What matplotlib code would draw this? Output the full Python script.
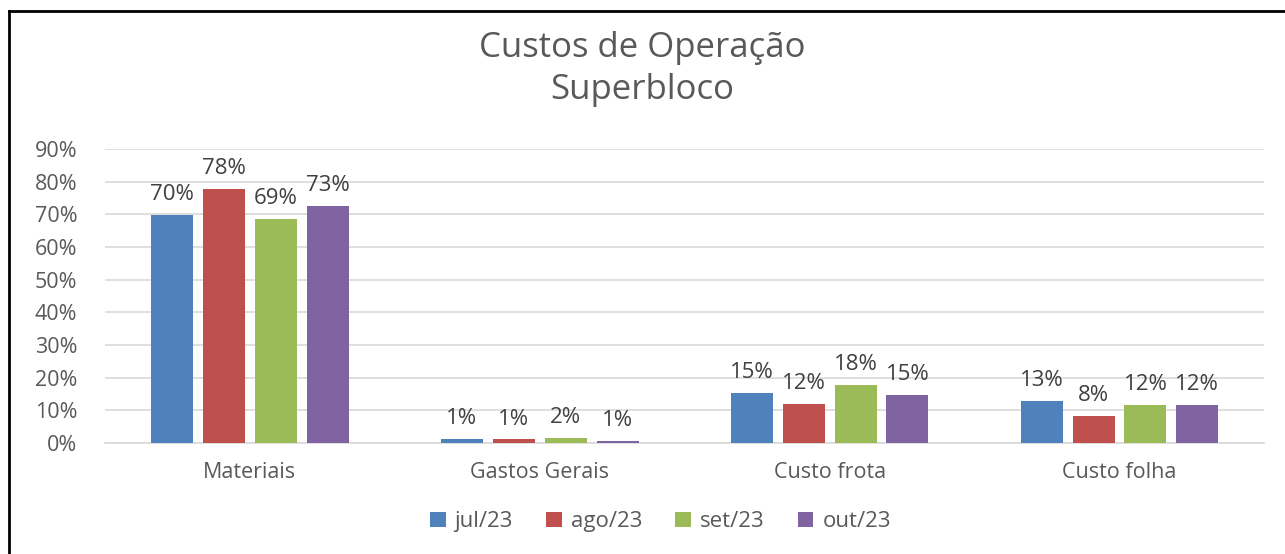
import numpy as np
import matplotlib.pyplot as plt
from matplotlib.lines import Line2D

# dados
categorias = ['Materiais', 'Gastos Gerais', 'Custo frota', 'Custo folha']
series = ['jul/23', 'ago/23', 'set/23', 'out/23']
jul = [69.8, 1.3, 15.3, 12.9]
ago = [77.9, 1.1, 12.0, 8.3]
set_ = [68.7, 1.5, 17.7, 11.6]
out = [72.6, 0.7, 14.6, 11.6]
valores = [jul, ago, set_, out]
cores = ['#4F81BD', '#C0504D', '#9BBB59', '#8064A2']

plt.rcParams['font.family'] = ['Open Sans', 'DejaVu Sans']
cinza = '#595959'

fig = plt.figure(figsize=(12.85, 5.54), dpi=100)
ax = fig.add_axes([0.0817, 0.2004, 0.9023, 0.5306])

x = np.arange(len(categorias))
passo = 0.179
largura = 0.145
for i, (nome, vals, cor) in enumerate(zip(series, valores, cores)):
    pos = x + (i - 1.5) * passo
    v = np.array(vals) / 100
    ax.bar(pos, v, width=largura, color=cor, label=nome, zorder=3)
    for px, py in zip(pos, v):
        ax.text(px, py + 0.03, f'{py * 100:.0f}%', ha='center', va='bottom',
                fontsize=16, color='#404040')

ax.set_xlim(-0.5, 3.5)
ax.set_ylim(0, 0.9)
ax.set_yticks(np.arange(0, 0.91, 0.1))
ax.set_yticklabels([f'{int(round(t * 100))}%' for t in np.arange(0, 0.91, 0.1)])
ax.set_xticks(x)
ax.set_xticklabels(categorias)
ax.tick_params(axis='both', length=0, labelsize=15.5, colors=cinza)
ax.tick_params(axis='x', pad=14)
ax.tick_params(axis='y', pad=20)
ax.grid(axis='y', color='#D9D9D9', linewidth=1.2, zorder=0)
for s in ['top', 'right', 'left']:
    ax.spines[s].set_visible(False)
ax.spines['bottom'].set_color('#D9D9D9')
ax.spines['bottom'].set_linewidth(1.2)

fig.text(0.5, 0.913, 'Custos de Operação', ha='center', va='center', fontsize=25, color=cinza)
fig.text(0.5, 0.838, 'Superbloco', ha='center', va='center', fontsize=25, color=cinza)

fig.legend(loc='center', bbox_to_anchor=(0.514, 0.058), ncol=4, frameon=False,
           fontsize=16, labelcolor=cinza, handlelength=0.7, handleheight=0.7,
           handletextpad=0.4, columnspacing=1.5)

# moldura (apenas topo e esquerda visiveis no recorte)
fig.add_artist(Line2D([9 / 1285, 9 / 1285], [0, 1 - 11 / 554], color='black', linewidth=2,
                      transform=fig.transFigure))
fig.add_artist(Line2D([9 / 1285, 1], [1 - 11 / 554, 1 - 11 / 554], color='black', linewidth=2,
                      transform=fig.transFigure))

fig.savefig('out.png', dpi=100, facecolor='white')
